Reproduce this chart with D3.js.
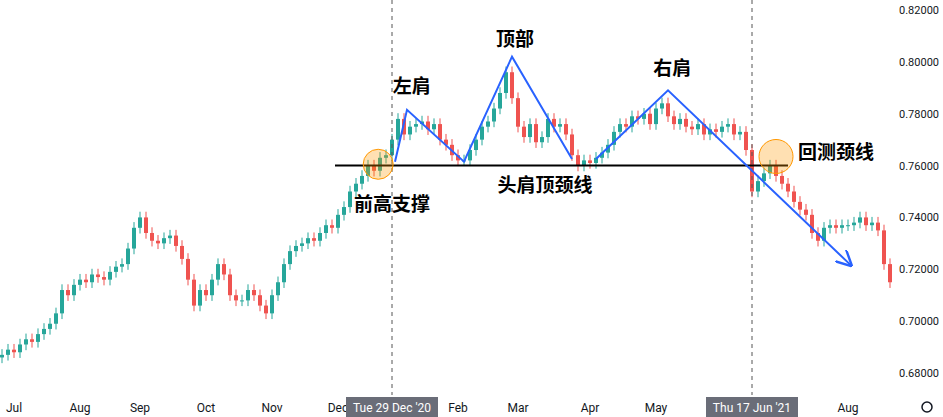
<!DOCTYPE html><html><head><meta charset="utf-8"><script src="https://d3js.org/d3.v7.min.js"></script>
<style>body{margin:0;background:#fff}svg{font-family:"Noto Sans CJK SC","Noto Sans",sans-serif}</style></head><body><svg width="943" height="417"></svg>
<script>
const closes=[0.687,0.689,0.688,0.691,0.693,0.692,0.695,0.697,0.699,0.703,
0.712,0.710,0.714,0.716,0.715,0.718,0.717,0.716,0.719,0.721,
0.722,0.728,0.736,0.740,0.734,0.731,0.730,0.732,0.733,0.729,
0.724,0.716,0.706,0.712,0.710,0.716,0.722,0.718,0.710,0.708,
0.708,0.712,0.710,0.706,0.703,0.710,0.715,0.722,0.727,0.729,
0.730,0.732,0.731,0.734,0.737,0.736,0.741,0.744,0.750,0.753,
0.756,0.760,0.758,0.763,0.764,0.770,0.778,0.772,0.775,0.776,
0.777,0.774,0.776,0.770,0.768,0.764,0.762,0.762,0.766,0.770,
0.775,0.777,0.782,0.788,0.796,0.786,0.775,0.771,0.776,0.769,
0.771,0.778,0.775,0.776,0.772,0.764,0.760,0.762,0.761,0.763,
0.765,0.768,0.773,0.776,0.775,0.779,0.778,0.780,0.776,0.782,
0.784,0.779,0.776,0.778,0.775,0.774,0.776,0.772,0.774,0.773,
0.775,0.776,0.772,0.773,0.766,0.750,0.754,0.757,0.760,0.756,
0.753,0.750,0.746,0.743,0.741,0.734,0.731,0.736,0.737,0.736,
0.737,0.737,0.738,0.740,0.737,0.738,0.735,0.722,0.715];
const firstOpen=0.686;
const monthLabels=["Jul","Aug","Sep","Oct","Nov","Dec","Feb","Mar","Apr","May","Aug"];
const monthIdx=[2,13,23,34,45,56,76,86,98,109,141];
const yTicks=[0.68,0.70,0.72,0.74,0.76,0.78,0.80,0.82];
const markerLabels=["Tue 29 Dec '20","Thu 17 Jun '21"];
const markerIdx=[65,125];
const neckline={from:55.5,to:131,price:0.760};
const bluePath1=[[65.5,0.7615],[67.5,0.7815],[77,0.7615],[85,0.8020],[95,0.7625]];
const bluePath2=[[99,0.7625],[111,0.789],[141.5,0.7215]];
const circles=[[62.7,0.7605,15],[129,0.7635,17]];
const texts=[["左肩",68.3,0.788],["顶部",85.5,0.806],["右肩",111.7,0.795],["回测颈线",139,0.7625],["前高支撑",65,0.7425],["头肩顶颈线",90.5,0.750]];

const svg=d3.select("svg");
const x=d3.scaleLinear().domain([0,closes.length-1]).range([2,890]);
const y=d3.scaleLinear().domain([0.68,0.82]).range([373,10]);
const data=closes.map((c,i)=>{const o=i?closes[i-1]:firstOpen;return{i,o,c,h:Math.max(o,c)+0.0022,l:Math.min(o,c)-0.0022};});
const up="#26a69a",dn="#ef5350";
const g=svg.append("g");
g.selectAll("line.w").data(data).join("line").attr("x1",d=>x(d.i)).attr("x2",d=>x(d.i)).attr("y1",d=>y(d.h)).attr("y2",d=>y(d.l)).attr("stroke",d=>d.c>=d.o?up:dn);
g.selectAll("rect").data(data).join("rect").attr("x",d=>x(d.i)-2).attr("width",4).attr("y",d=>y(Math.max(d.o,d.c))).attr("height",d=>Math.max(1,Math.abs(y(d.o)-y(d.c)))).attr("fill",d=>d.c>=d.o?up:dn);
markerIdx.forEach(i=>svg.append("line").attr("x1",x(i)).attr("x2",x(i)).attr("y1",0).attr("y2",395).attr("stroke","#555").attr("stroke-dasharray","4,4"));
svg.append("line").attr("x1",x(neckline.from)).attr("x2",x(neckline.to)).attr("y1",y(neckline.price)).attr("y2",y(neckline.price)).attr("stroke","#000").attr("stroke-width",2);
const ln=d3.line().x(d=>x(d[0])).y(d=>y(d[1]));
svg.append("defs").append("marker").attr("id","ar").attr("viewBox","0 0 10 10").attr("refX",9).attr("refY",5).attr("markerWidth",8).attr("markerHeight",8).attr("orient","auto").append("path").attr("d","M0,0L10,5L0,10").attr("fill","none").attr("stroke","#2962ff").attr("stroke-width",1.5);
svg.append("path").attr("d",ln(bluePath1)).attr("fill","none").attr("stroke","#2962ff").attr("stroke-width",2);
svg.append("path").attr("d",ln(bluePath2)).attr("fill","none").attr("stroke","#2962ff").attr("stroke-width",2).attr("marker-end","url(#ar)");
circles.forEach(c=>svg.append("circle").attr("cx",x(c[0])).attr("cy",y(c[1])).attr("r",c[2]).attr("fill","rgba(255,152,0,0.3)").attr("stroke","#ff9800"));
texts.forEach(t=>svg.append("text").attr("x",x(t[1])).attr("y",y(t[2])).attr("text-anchor","middle").attr("font-size",19).attr("font-weight","bold").attr("fill","#000").text(t[0]));
yTicks.forEach(v=>svg.append("text").attr("x",899).attr("y",y(v)+4).attr("font-size",11).attr("font-family","Roboto,sans-serif").attr("fill","#131722").text(v.toFixed(5)));
monthLabels.forEach((m,k)=>svg.append("text").attr("x",x(monthIdx[k])).attr("y",412).attr("text-anchor","middle").attr("font-size",12).attr("font-family","Roboto,sans-serif").attr("fill","#131722").text(m));
markerIdx.forEach((i,k)=>{svg.append("rect").attr("x",x(i)-46).attr("y",397).attr("width",92).attr("height",20).attr("fill","#6a6d78");
svg.append("text").attr("x",x(i)).attr("y",412).attr("text-anchor","middle").attr("font-size",12).attr("font-family","Roboto,sans-serif").attr("fill","#fff").text(markerLabels[k]);});
svg.append("circle").attr("cx",927).attr("cy",407).attr("r",5).attr("fill","none").attr("stroke","#131722").attr("stroke-width",1.5);
</script></body></html>
